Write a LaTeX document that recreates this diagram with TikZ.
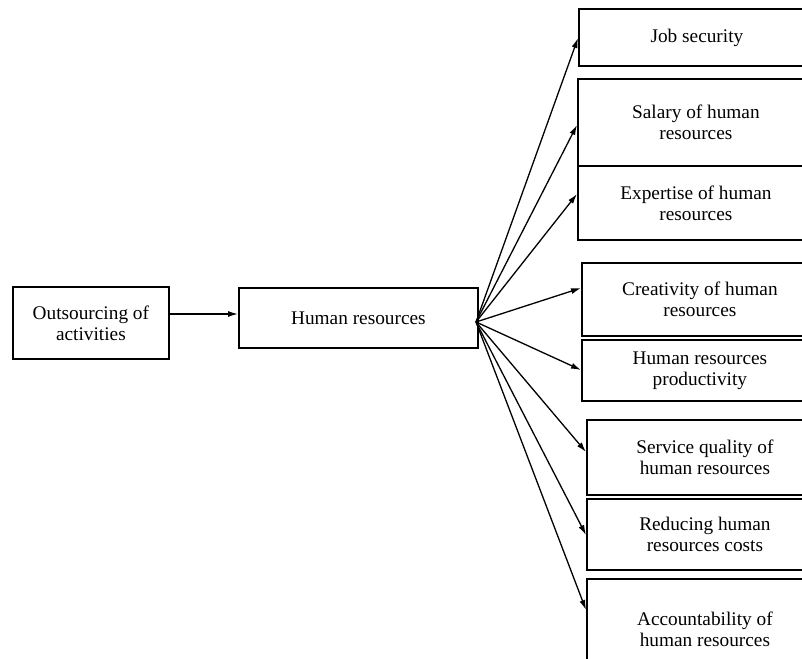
\documentclass[tikz,border=0pt]{standalone}
\usepackage{fontspec}
\setmainfont{Liberation Serif}
\usetikzlibrary{arrows.meta}
\begin{document}
\begin{tikzpicture}[x=1pt,y=-1pt,
  box/.style={draw,line width=1.8pt,inner sep=0pt,anchor=north west,align=center,
    font=\fontsize{19.3}{21}\selectfont},
  conn/.style={line width=1.3pt,-{Latex[length=10pt,width=6pt]}}]
\useasboundingbox (0,0) rectangle (802,658);
\clip (0,0) rectangle (802,658);
\node[box,minimum width=156pt,minimum height=72pt] (out) at (12,286) {Outsourcing of\\activities};
\node[box,minimum width=239pt,minimum height=60pt] (hr) at (238,287) {Human resources};
\node[box,minimum width=236pt,minimum height=57pt] (b1) at (578,8) {Job security};
\node[box,minimum width=236pt,minimum height=87pt] (b2) at (577,78) {Salary of human\\resources};
\node[box,minimum width=236pt,minimum height=74pt] (b3) at (577,165) {Expertise of human\\resources};
\node[box,minimum width=236pt,minimum height=73pt] (b4) at (581,262) {Creativity of human\\resources};
\node[box,minimum width=236pt,minimum height=61pt] (b5) at (581,339) {Human resources\\productivity};
\node[box,minimum width=236pt,minimum height=75pt] (b6) at (586,419) {Service quality of\\human resources};
\node[box,minimum width=236pt,minimum height=71pt] (b7) at (586,498) {Reducing human\\resources costs};
\node[box,minimum width=236pt,minimum height=100pt] (b8) at (586,578) {Accountability of\\human resources};
\coordinate (f) at (476,322);
\draw[conn] (out.east |- 0,314) -- (hr.west |- 0,314);
\draw[conn] (f) -- (b1.west |- 0,38);
\draw[conn] (f) -- (b2.west |- 0,125);
\draw[conn] (f) -- (b3.west |- 0,194);
\draw[conn] (f) -- (b4.west |- 0,288);
\draw[conn] (f) -- (b5.west |- 0,370);
\draw[conn] (f) -- (b6.west |- 0,452);
\draw[conn] (f) -- (b7.west |- 0,535);
\draw[conn] (f) -- (b8.west |- 0,610);
\end{tikzpicture}
\end{document}
